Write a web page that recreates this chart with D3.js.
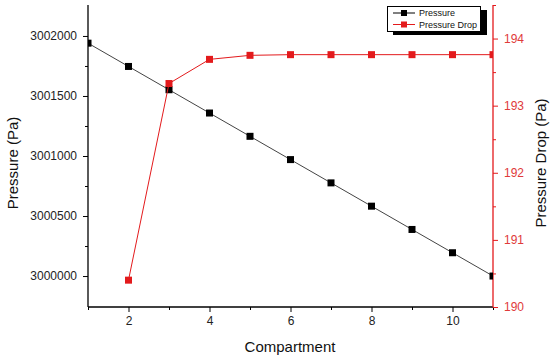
<!DOCTYPE html>
<html><head><meta charset="utf-8">
<script src="https://cdn.jsdelivr.net/npm/d3@7"></script>
<style>body{margin:0;background:#fff;} svg{display:block;font-family:"Liberation Sans",Arial,sans-serif;}</style>
</head><body>
<svg id="c" width="550" height="360"></svg>
<script>
const compartments = [1,2,3,4,5,6,7,8,9,10,11];
const pressure = [3001940,3001746,3001552,3001358,3001164,3000970,3000776,3000582,3000388,3000194,3000000];
const dropCompartments = [2,3,4,5,6,7,8,9,10,11];
const pressureDrop = [190.40,193.33,193.69,193.75,193.76,193.76,193.76,193.76,193.76,193.76];
const xTicks = [2,4,6,8,10];
const leftTicks = [3000000,3000500,3001000,3001500,3002000];
const rightTicks = [190,191,192,193,194];

const svg = d3.select("#c");
const L=88, R=493, T=5, B=307;
const red="#e31a1c";
const redText="#e03a3a";
const x = d3.scaleLinear().domain([1,11]).range([L,R]);
const yL = d3.scaleLinear().domain([2999742,3002258]).range([B,T]);
const yR = d3.scaleLinear().domain([190,194.5]).range([B,T]);

svg.append("defs").append("clipPath").attr("id","clip").append("rect")
  .attr("x",L).attr("y",T).attr("width",R-L).attr("height",B-T);

// bottom axis
const gx = svg.append("g").attr("transform",`translate(0,${B})`);
gx.call(d3.axisBottom(x).tickValues(d3.range(1,12)).tickSize(4).tickFormat(""));
gx.selectAll(".tick line").attr("y2",d=>d%2===0?5:3);
const gx2 = svg.append("g").attr("transform",`translate(0,${B})`)
  .call(d3.axisBottom(x).tickValues(xTicks).tickSize(0).tickPadding(9).tickFormat(d3.format("d")));
gx2.select(".domain").remove();
// left axis
const gl = svg.append("g").attr("transform",`translate(${L},0)`);
gl.call(d3.axisLeft(yL).tickValues(d3.range(3000000,3002001,250)).tickSize(5).tickFormat(d=>leftTicks.includes(d)?d3.format("d")(d):""));
gl.selectAll(".tick line").attr("x2",d=>leftTicks.includes(d)?-5:-3);
gl.selectAll(".tick text").attr("x",-11);
// right axis
const gr = svg.append("g").attr("transform",`translate(${R},0)`);
gr.call(d3.axisRight(yR).tickValues(d3.range(190,194.51,0.5)).tickSize(5).tickFormat(d=>rightTicks.includes(d)?d3.format("d")(d):""));
gr.selectAll(".tick line").attr("x2",d=>Number.isInteger(d)?5:3);
gr.selectAll("line,path").attr("stroke",red);

svg.selectAll(".tick text").attr("font-size",12).attr("font-family","Liberation Sans, Arial, sans-serif").attr("fill","#222");
gr.selectAll(".tick text").attr("x",11).attr("fill",redText);
svg.selectAll(".domain").attr("stroke-width",1.3);
gr.select(".domain").attr("d",`M0,${T}V${B}`);
gl.select(".domain").attr("d",`M0,${T}V${B}`);
gx.select(".domain").attr("d",`M${L},0H${R}`);

const plot = svg.append("g").attr("clip-path","url(#clip)");
// pressure line
plot.append("path").datum(compartments.map((c,i)=>[c,pressure[i]]))
  .attr("fill","none").attr("stroke","#444").attr("stroke-width",1)
  .attr("d",d3.line().x(d=>x(d[0])).y(d=>yL(d[1])));
plot.selectAll(".pm").data(compartments.map((c,i)=>[c,pressure[i]])).join("rect")
  .attr("x",d=>x(d[0])-3.5).attr("y",d=>yL(d[1])-3.5).attr("width",7).attr("height",7).attr("fill","#000");
// drop line
plot.append("path").datum(dropCompartments.map((c,i)=>[c,pressureDrop[i]]))
  .attr("fill","none").attr("stroke",red).attr("stroke-width",1)
  .attr("d",d3.line().x(d=>x(d[0])).y(d=>yR(d[1])));
plot.selectAll(".dm").data(dropCompartments.map((c,i)=>[c,pressureDrop[i]])).join("rect")
  .attr("x",d=>x(d[0])-3.5).attr("y",d=>yR(d[1])-3.5).attr("width",7).attr("height",7).attr("fill",red);

// axis titles
svg.append("text").attr("x",290).attr("y",352).attr("text-anchor","middle").attr("font-size",15).attr("fill","#111").text("Compartment");
svg.append("text").attr("transform","translate(18,163) rotate(-90)").attr("text-anchor","middle").attr("font-size",15).attr("fill","#111").text("Pressure (Pa)");
svg.append("text").attr("transform","translate(546,163) rotate(-90)").attr("text-anchor","middle").attr("font-size",15).attr("fill","#111").text("Pressure Drop (Pa)");

// legend
const lg = svg.append("g");
lg.append("rect").attr("x",393).attr("y",10).attr("width",94).attr("height",25).attr("fill","#000");
lg.append("rect").attr("x",387.5).attr("y",6.5).attr("width",93).attr("height",25).attr("fill","#fff").attr("stroke","#000").attr("stroke-width",1);
const items=[{n:"Pressure",c:"#000"},{n:"Pressure Drop",c:red}];
items.forEach((it,i)=>{
  const yy=13+i*11.5;
  lg.append("line").attr("x1",393).attr("x2",415).attr("y1",yy).attr("y2",yy).attr("stroke",it.c).attr("stroke-width",1);
  lg.append("rect").attr("x",401).attr("y",yy-3).attr("width",6).attr("height",6).attr("fill",it.c);
  lg.append("text").attr("x",419).attr("y",yy+3.3).attr("font-size",9).attr("fill","#111").text(it.n);
});
</script>
</body></html>
